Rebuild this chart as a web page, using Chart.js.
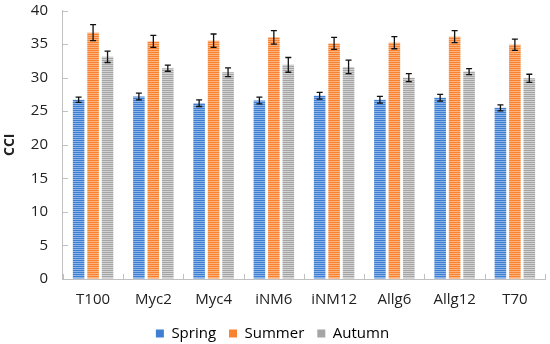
<!DOCTYPE html>
<html>
<head>
<meta charset="utf-8">
<script src="https://cdn.jsdelivr.net/npm/chart.js@4/dist/chart.umd.min.js"></script>
<style>
  html, body { margin: 0; padding: 0; background: #fff; }
  #wrap { width: 550px; height: 344px; }
</style>
</head>
<body>
<div id="wrap"><canvas id="cciChart" width="550" height="344"></canvas></div>
<script>
// datos
const categories = ["T100", "Myc2", "Myc4", "iNM6", "iNM12", "Allg6", "Allg12", "T70"];
const spring = [26.7, 27.2, 26.2, 26.6, 27.3, 26.7, 27.0, 25.5];
const summer = [36.7, 35.4, 35.5, 36.0, 35.1, 35.2, 36.1, 34.9];
const autumn = [33.1, 31.4, 30.8, 31.9, 31.6, 30.0, 30.9, 29.9];
const springErr = [0.4, 0.5, 0.5, 0.5, 0.5, 0.5, 0.5, 0.45];
const summerErr = [1.2, 0.9, 1.0, 1.0, 0.9, 0.9, 0.9, 0.85];
const autumnErr = [0.85, 0.45, 0.65, 1.1, 1.0, 0.6, 0.45, 0.6];
const yTicks = [0, 5, 10, 15, 20, 25, 30, 35, 40];

const axisColor = "#c0c0c0";

// patrón de rayas horizontales como en la figura original
function stripes(dark, light) {
    const c = document.createElement("canvas");
    c.width = 4; c.height = 2;
    const g = c.getContext("2d");
    g.fillStyle = dark;  g.fillRect(0, 0, 4, 1);
    g.fillStyle = light; g.fillRect(0, 1, 4, 1);
    return g.createPattern(c, "repeat");
}

// marcas de los ejes hacia dentro (estilo Excel)
const innerTicks = {
    id: "innerTicks",
    afterDraw(chart) {
        const ctx = chart.ctx, x = chart.scales.x, y = chart.scales.y;
        const a = chart.chartArea;
        ctx.save();
        ctx.strokeStyle = axisColor;
        ctx.lineWidth = 1;
        ctx.beginPath();
        y.ticks.forEach(t => {
            const py = Math.round(y.getPixelForValue(t.value)) + 0.5;
            ctx.moveTo(a.left, py); ctx.lineTo(a.left + 5, py);
        });
        for (let i = 0; i <= categories.length; i++) {
            const px = Math.round(x.getPixelForValue(i - 0.5)) + 0.5;
            ctx.moveTo(px, a.bottom); ctx.lineTo(px, a.bottom - 5);
        }
        ctx.stroke();
        ctx.restore();
    }
};

// barras de error
const errorBars = {
    id: "errorBars",
    afterDatasetsDraw(chart) {
        const ctx = chart.ctx;
        const y = chart.scales.y;
        chart.data.datasets.forEach((ds, i) => {
            const meta = chart.getDatasetMeta(i);
            meta.data.forEach((bar, j) => {
                const v = ds.data[j], e = ds.errors[j];
                const top = y.getPixelForValue(v + e);
                const bot = y.getPixelForValue(v - e);
                ctx.save();
                ctx.strokeStyle = "#111";
                ctx.lineWidth = 1.3;
                ctx.beginPath();
                ctx.moveTo(bar.x, top); ctx.lineTo(bar.x, bot);
                ctx.moveTo(bar.x - 3, top); ctx.lineTo(bar.x + 3, top);
                ctx.moveTo(bar.x - 3, bot); ctx.lineTo(bar.x + 3, bot);
                ctx.stroke();
                ctx.restore();
            });
        });
    }
};

const ctx = document.getElementById("cciChart").getContext("2d");
new Chart(ctx, {
    type: "bar",
    data: {
        labels: categories,
        datasets: [
            { label: "Spring", data: spring, errors: springErr, backgroundColor: stripes("#3e7fd3", "#8db5e8") },
            { label: "Summer", data: summer, errors: summerErr, backgroundColor: stripes("#f8822f", "#fbb27c") },
            { label: "Autumn", data: autumn, errors: autumnErr, backgroundColor: stripes("#a5a5a5", "#d2d2d2") }
        ]
    },
    options: {
        responsive: false,
        animation: false,
        datasets: { bar: { categoryPercentage: 0.72, barPercentage: 0.8 } },
        layout: { padding: { top: 0, right: 5, left: 0, bottom: -7 } },
        plugins: {
            legend: {
                position: "bottom",
                labels: {
                    font: { family: "Open Sans", size: 15 },
                    color: "#222",
                    boxWidth: 8,
                    boxHeight: 8,
                    padding: 13,
                    generateLabels(chart) {
                        const cols = ["#3e7fd3", "#f8822f", "#a5a5a5"];
                        return chart.data.datasets.map((d, i) => ({
                            text: d.label, fillStyle: cols[i], strokeStyle: cols[i],
                            lineWidth: 0, datasetIndex: i
                        }));
                    }
                }
            },
            tooltip: { enabled: false }
        },
        scales: {
            x: {
                grid: { display: false, tickLength: 8 },
                border: { color: axisColor },
                ticks: { font: { family: "Open Sans", size: 15 }, color: "#222", padding: 4 }
            },
            y: {
                min: 0, max: 40,
                afterBuildTicks(axis) { axis.ticks = yTicks.map(v => ({ value: v })); },
                grid: { display: true, drawOnChartArea: false, color: "rgba(0,0,0,0)", tickLength: 12 },
                border: { color: axisColor },
                ticks: { font: { family: "Open Sans", size: 15, lineHeight: 1 }, color: "#222", padding: 3 },
                title: {
                    display: true, text: "CCI", color: "#222",
                    font: { family: "Open Sans", size: 14, weight: "bold" },
                    padding: { top: 2, bottom: 9 }
                }
            }
        }
    },
    plugins: [errorBars, innerTicks]
});
</script>
</body>
</html>
